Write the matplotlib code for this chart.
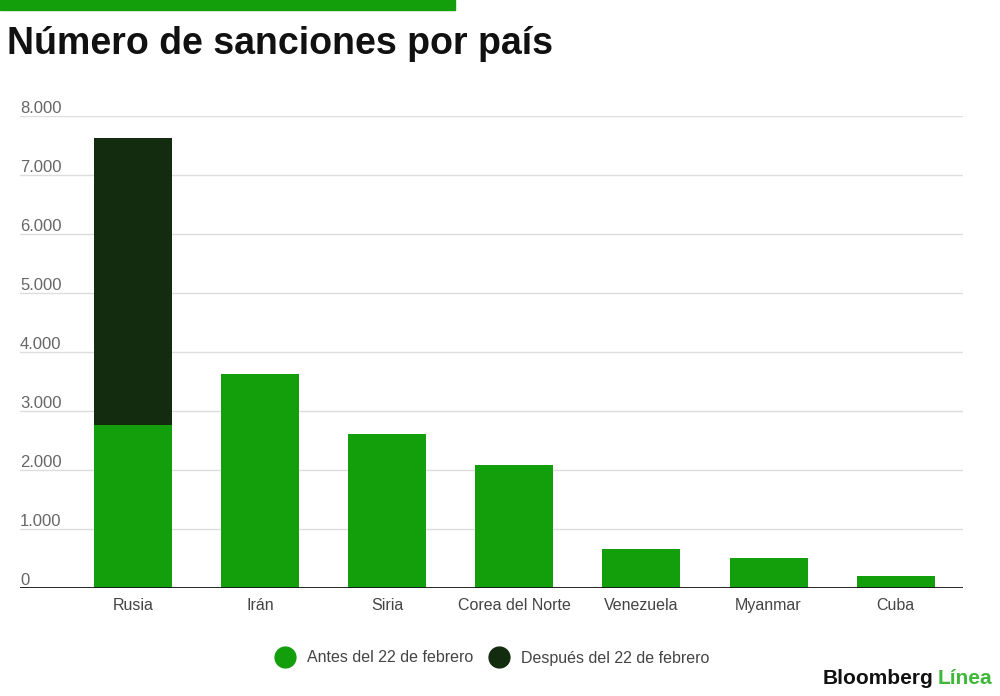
import matplotlib.pyplot as plt
import matplotlib.transforms as mtransforms
from matplotlib.lines import Line2D

# Sanctions per country
COUNTRIES = ["Rusia", "Irán", "Siria", "Corea del Norte", "Venezuela", "Myanmar", "Cuba"]
BEFORE = [2760, 3620, 2615, 2077, 660, 510, 210]
AFTER = [4860, 0, 0, 0, 0, 0, 0]
Y_TICKS = [0, 1000, 2000, 3000, 4000, 5000, 6000, 7000, 8000]
Y_LABELS = ["0", "1.000", "2.000", "3.000", "4.000", "5.000", "6.000", "7.000", "8.000"]
SERIES = ["Antes del 22 de febrero", "Después del 22 de febrero"]

GREEN = "#139e0c"
DARK = "#132b0e"

plt.rcParams['font.family'] = ['Liberation Sans', 'DejaVu Sans']


def main():
    fig = plt.figure(figsize=(10, 6.96), dpi=100)

    # green strip at the top left
    fig.patches.append(plt.Rectangle((0, 1 - 10 / 696), 0.455, 10 / 696,
                                     transform=fig.transFigure, color=GREEN, zorder=0))
    fig.text(0.007, 1 - 44 / 696, "Número de sanciones por país", fontsize=27,
             fontweight='bold', color="#111111", va='center', ha='left')

    ax = fig.add_axes([0.02, 1 - 588 / 696, 0.943, (588 - 116) / 696])
    x = list(range(len(COUNTRIES)))
    ax.bar(x, BEFORE, width=0.614, color=GREEN, zorder=2)
    ax.bar(x, AFTER, width=0.614, bottom=BEFORE, color=DARK, zorder=2)

    ax.set_xlim(-0.89, 6.53)
    ax.set_ylim(0, 8000)
    for s in ax.spines.values():
        s.set_visible(False)
    ax.set_yticks(Y_TICKS)
    ax.set_yticklabels([])
    ax.tick_params(axis='y', length=0)
    ax.grid(axis='y', color="#dddddd", linewidth=1, zorder=0)
    ax.axhline(0, color="#111111", linewidth=2, zorder=3)

    # value labels sit just above their gridline, on the left
    trans = mtransforms.blended_transform_factory(ax.transAxes, ax.transData)
    for v, lab in zip(Y_TICKS, Y_LABELS):
        ax.text(0.0, v + 55, lab, transform=trans, ha='left', va='baseline',
                fontsize=12, color="#666666")

    ax.set_xticks(x)
    ax.set_xticklabels(COUNTRIES, fontsize=11.5, color="#444444")
    ax.tick_params(axis='x', length=0, pad=7)

    # legend
    handles = [Line2D([], [], marker='o', linestyle='', markersize=15, color=c)
               for c in (GREEN, DARK)]
    fig.legend(handles, SERIES, loc='center', bbox_to_anchor=(0.489, 1 - 658 / 696),
               ncol=2, frameon=False, fontsize=11.5, labelcolor="#444444",
               handletextpad=0.4, columnspacing=0.6)

    # logo
    t = fig.text(0.823, 1 - 679 / 696, "Bloomberg", fontsize=15, fontweight='bold',
                 color="#111111", va='center', ha='left')
    fig.canvas.draw()
    bb = t.get_window_extent()
    fig.text(bb.x1 / fig.bbox.width + 0.004, 1 - 679 / 696, "Línea", fontsize=15,
             fontweight='bold', color="#3fb83a", va='center', ha='left')

    fig.savefig("out.png", dpi=100)


if __name__ == "__main__":
    main()
